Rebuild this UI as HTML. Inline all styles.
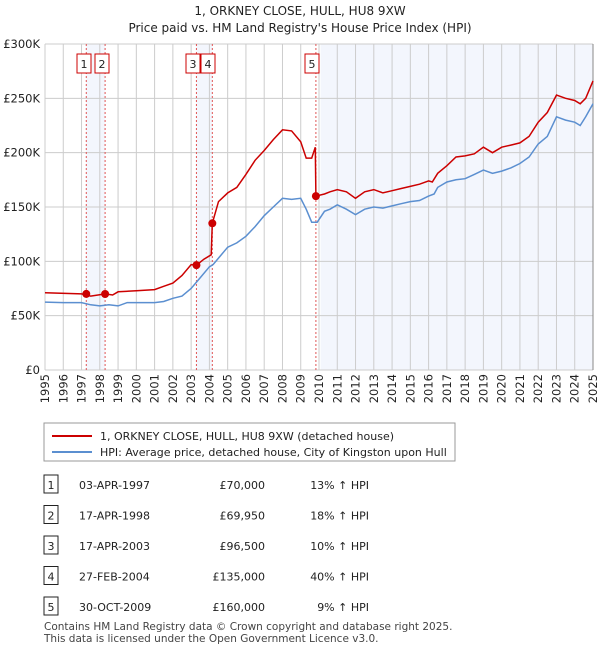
<!DOCTYPE html>
<html><head><meta charset="utf-8"><style>
body{margin:0;background:#fff;font-family:"Liberation Sans","DejaVu Sans",sans-serif;}
svg text{font-family:"DejaVu Sans","Liberation Sans",sans-serif;}
</style></head><body>
<svg width="600" height="650">
<text x="300" y="15" text-anchor="middle" font-size="12" fill="#222">1, ORKNEY CLOSE, HULL, HU8 9XW</text>
<text x="300" y="32" text-anchor="middle" font-size="12" fill="#222">Price paid vs. HM Land Registry's House Price Index (HPI)</text>
<g id="plot"></g>
<g id="leg">
<rect x="44" y="423" width="411" height="38" fill="#fff" stroke="#999"/>
<line x1="52" y1="436" x2="92" y2="436" stroke="#cc0000" stroke-width="2"/>
<text x="100" y="440" font-size="11" fill="#222">1, ORKNEY CLOSE, HULL, HU8 9XW (detached house)</text>
<line x1="52" y1="452" x2="92" y2="452" stroke="#5b8fd0" stroke-width="2"/>
<text x="100" y="456" font-size="11" fill="#222">HPI: Average price, detached house, City of Kingston upon Hull</text>
</g>
<g id="tbl"></g>
<text x="44" y="630" font-size="10.5" fill="#444">Contains HM Land Registry data © Crown copyright and database right 2025.</text>
<text x="44" y="642" font-size="10.5" fill="#444">This data is licensed under the Open Government Licence v3.0.</text>
</svg>
<script>
const years=[1995,1996,1997,1998,1999,2000,2001,2002,2003,2004,2005,2006,2007,2008,2009,2010,2011,2012,2013,2014,2015,2016,2017,2018,2019,2020,2021,2022,2023,2024,2025];
const yTicks=[0,50000,100000,150000,200000,250000,300000];
const yTickLabels=["£0","£50K","£100K","£150K","£200K","£250K","£300K"];
const hpiT=[1995,1996,1997,1997.5,1998,1998.5,1999,1999.5,2000,2001,2001.5,2002,2002.5,2003,2003.5,2004,2004.2,2004.5,2005,2005.5,2006,2006.5,2007,2007.5,2008,2008.5,2009,2009.3,2009.6,2009.9,2010.3,2010.6,2011,2011.5,2012,2012.5,2013,2013.5,2014,2014.5,2015,2015.5,2016,2016.3,2016.5,2017,2017.5,2018,2018.5,2019,2019.5,2020,2020.5,2021,2021.5,2022,2022.5,2023,2023.5,2024,2024.3,2024.6,2025];
const hpiV=[62.5,62,62,60,59,60,59,62,62,62,63,66,68,75,85,95,97,103,113,117,123,132,142,150,158,157,158,148,136,136,146,148,152,148,143,148,150,149,151,153,155,156,160,162,168,173,175,176,180,184,181,183,186,190,196,208,215,233,230,228,225,233,245];
const priceT=[1995,1997,1997.5,1998.3,1998.7,1999,2000,2001,2001.5,2002,2002.5,2003,2003.3,2003.7,2004.1,2004.16,2004.5,2005,2005.5,2006,2006.5,2007,2007.5,2008,2008.5,2009,2009.3,2009.6,2009.8,2009.83,2010.3,2010.6,2011,2011.5,2012,2012.5,2013,2013.5,2014,2014.5,2015,2015.5,2016,2016.2,2016.5,2017,2017.5,2018,2018.5,2019,2019.5,2020,2020.5,2021,2021.5,2022,2022.5,2023,2023.5,2024,2024.3,2024.6,2025];
const priceV=[71,70,68,70,69,72,73,74,77,80,87,97,96.5,102,106,135,155,163,168,180,193,202,212,221,220,210,195,195,205,160,162,164,166,164,158,164,166,163,165,167,169,171,174,173,181,188,196,197,199,205,200,205,207,209,215,228,237,253,250,248,245,250,266];
const saleLabels=["1","2","3","4","5"];
const saleT=[1997.26,1998.29,2003.29,2004.16,2009.83];
const saleV=[70000,69950,96500,135000,160000];
const saleDates=["03-APR-1997","17-APR-1998","17-APR-2003","27-FEB-2004","30-OCT-2009"];
const salePrices=["£70,000","£69,950","£96,500","£135,000","£160,000"];
const saleHpi=["13% ↑ HPI","18% ↑ HPI","10% ↑ HPI","40% ↑ HPI","9% ↑ HPI"];
const X0=45,X1=593,Y0=370,Y1=44;
const xs=t=>X0+(t-1995)/30*(X1-X0);
const ys=v=>Y0-v/300000*(Y0-Y1);
const NS="http://www.w3.org/2000/svg";
function mk(p,tag,a){const e=document.createElementNS(NS,tag);for(const k in a)e.setAttribute(k,a[k]);p.appendChild(e);return e;}
const g=document.getElementById('plot');
[[saleT[0],saleT[1]],[saleT[2],saleT[3]],[2010.09,2025]].forEach((s,i)=>{const r=mk(g,'rect',{x:xs(s[0]),y:Y1,width:xs(s[1])-xs(s[0]),height:Y0-Y1,fill:'#f3f6fd'});

});
years.forEach(yv=>{const l=mk(g,'line',{x1:xs(yv),x2:xs(yv),y1:Y1,y2:Y0,stroke:'#ccc'});


const x=xs(yv),t=mk(g,'text',{x:x+4,y:Y0+4,'font-size':11.5,fill:'#222',transform:`rotate(-90 ${x+4} ${Y0+4})`,'text-anchor':'end'});t.textContent=yv;

});
yTicks.forEach((v,i)=>{const l=mk(g,'line',{x1:X0,x2:X1,y1:ys(v),y2:ys(v),stroke:'#ccc'});


const t=mk(g,'text',{x:40,y:ys(v)+4,'font-size':11.5,fill:'#222','text-anchor':'end'});t.textContent=yTickLabels[i];

});
mk(g,'line',{x1:X1,x2:X1,y1:Y1,y2:Y0,stroke:'#888'});
saleT.forEach((t,i)=>{const l=mk(g,'line',{x1:xs(t),x2:xs(t),y1:Y1,y2:Y0,stroke:'#e05555','stroke-dasharray':'2,2'});

});
function path(T,V,c,n){const d=T.map((t,i)=>(i?'L':'M')+xs(t).toFixed(1)+','+ys(V[i]*1000).toFixed(1)).join('');
const p=mk(g,'path',{d,fill:'none',stroke:c,'stroke-width':1.5});

}
path(hpiT,hpiV,'#5b8fd0','hpi-line');
path(priceT,priceV,'#cc0000','price-line');
saleT.forEach((t,i)=>{const c=mk(g,'circle',{cx:xs(t),cy:ys(saleV[i]),r:4,fill:'#cc0000'});


const bx=[84,102,193,208,312][i];
const r=mk(g,'rect',{x:bx-7,y:54,width:14,height:19,fill:'#fff',stroke:'#cc0000'});


const tx=mk(g,'text',{x:bx,y:68,'font-size':11,'text-anchor':'middle',fill:'#222'});tx.textContent=saleLabels[i];

});
const tb=document.getElementById('tbl');
saleLabels.forEach((s,i)=>{const y=485+i*30.5;
const r=mk(tb,'rect',{x:44,y:y-10,width:14,height:18,fill:'#fff',stroke:'#222'});


const cells=[[51,s,'middle'],[79,saleDates[i],'start'],[265,salePrices[i],'end'],[369,saleHpi[i],'end']];
cells.forEach(c=>{const t=mk(tb,'text',{x:c[0],y:y+4,'font-size':11,fill:'#222','text-anchor':c[2]});t.textContent=c[1];

});});
</script>
</body></html>
